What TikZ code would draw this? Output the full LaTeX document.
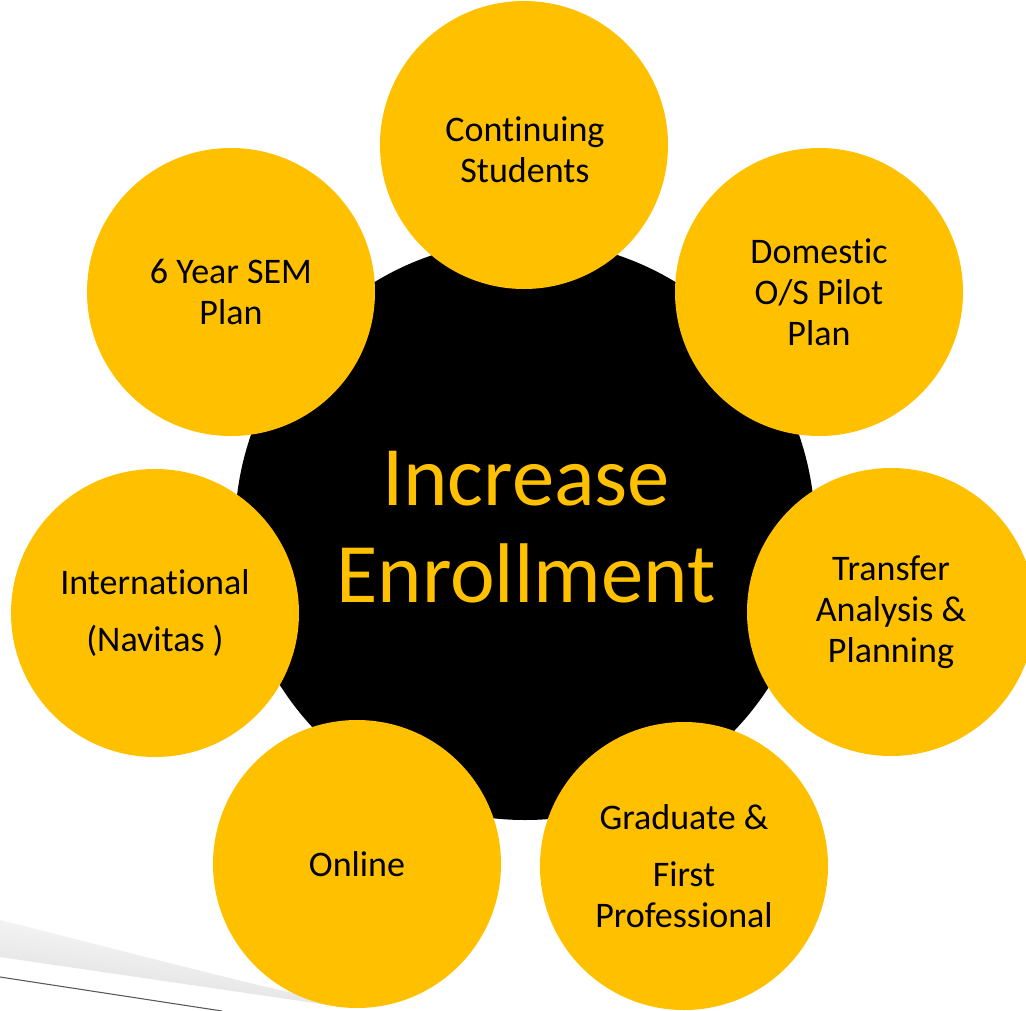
\documentclass[tikz,border=0pt]{standalone}
\usepackage{fontspec}
\setmainfont{Carlito}[Ligatures={NoCommon}]
\usetikzlibrary{calc}
\definecolor{gold}{HTML}{FFC000}
\tikzset{
  hub/.style={circle, fill=black, minimum size=435pt, inner sep=0pt},
  spoke/.style={circle, fill=gold, minimum size=216pt, inner sep=0pt,
    text=black, align=center, font=\fontsize{27}{30.75}\selectfont},
}
\begin{document}
\begin{tikzpicture}[x=0.75pt, y=-0.75pt]
  \useasboundingbox (0,0) rectangle (1026,1011);
  \fill[white] (0,0) rectangle (1026,1011);

  % soft page-curl shadow and rule in the lower left corner
  \shade[top color=white, bottom color=gray!28, shading angle=-8]
    (0,920) .. controls (120,950) and (250,985) .. (335,1002)
    -- (335,1006) -- (0,957) -- cycle;
  \draw[gray!70!black, line width=0.8pt] (0,977) coordinate (ruleA) -- (222,1011) coordinate (ruleB);

  % central goal
  \node[hub] (hub) at (525,530) {};
  \node[text=gold, align=center, font=\fontsize{63.5}{73}\selectfont] (goal) at (526,527) {Increase\\Enrollment};

  % surrounding initiatives
  \node[spoke] (cont) at (524,145) {};
  \node[align=center, font=\fontsize{27}{30.75}\selectfont] (conttext) at (525,150) {Continuing\\Students};
  \node[spoke] (dom)  at (819,292) {Domestic\\O/S Pilot\\Plan};
  \node[spoke] (trans) at (891,612) {Transfer\\Analysis \&\\Planning};
  \node[spoke] (grad) at (684,866) {Graduate \&\\[12pt]First\\Professional};
  \node[spoke] (online) at (357,864) {Online};
  \node[spoke] (intl) at (155,613) {International\\[12pt](Navitas )};
  \node[spoke] (sem) at (231,292) {6 Year SEM\\Plan};
\end{tikzpicture}
\end{document}
